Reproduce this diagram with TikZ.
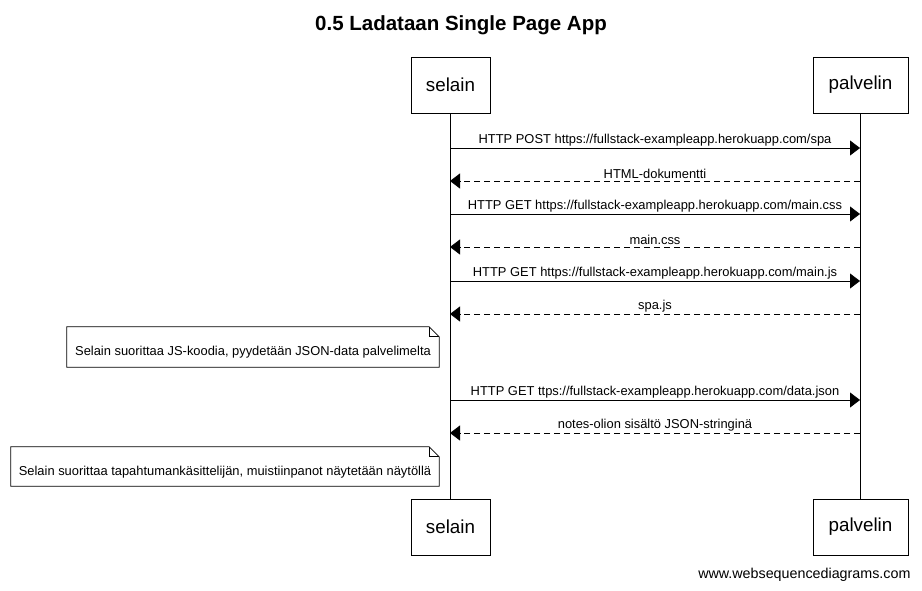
\documentclass[tikz,border=0pt]{standalone}
\usepackage{fontspec}
\setmainfont{Liberation Sans}
\usetikzlibrary{arrows.meta}
\tikzset{
  actorbox/.style={draw,line width=0.8pt,fill=white,minimum height=56,font=\fontsize{18.8}{21}\selectfont},
  lifeline/.style={line width=0.8pt},
  callmsg/.style={line width=0.8pt,-{Triangle[length=10pt,width=15pt]}},
  backmsg/.style={line width=0.8pt,dash pattern=on 6pt off 4pt,-{Triangle[length=10pt,width=15pt]}},
  msglabel/.style={above,inner sep=1.5pt,font=\fontsize{12.9}{14}\selectfont},
  notebox/.style={inner sep=0pt,text height=17pt,text depth=0pt,font=\fontsize{12.9}{14}\selectfont}
}
\newcommand{\notefold}[1]{%
  \draw[line width=0.8pt] (#1.north west) -- ([xshift=-10pt]#1.north east) -- ([yshift=-10pt]#1.north east)
    -- (#1.south east) -- (#1.south west) -- cycle;
  \draw[line width=0.8pt] ([xshift=-10pt]#1.north east) |- ([yshift=-10pt]#1.north east);
}
\begin{document}
\begin{tikzpicture}[x=1pt,y=-1pt]
\useasboundingbox (0,0) rectangle (922,590);
% title
\node[font=\bfseries\fontsize{20.5}{22}\selectfont] (title) at (461,25) {0.5 Ladataan Single Page App};
% participants, top and bottom
\node[actorbox,minimum width=79] (selTop) at (450.5,85) {selain};
\node[actorbox,minimum width=95] (palTop) at (860.5,85) {palvelin};
\node[actorbox,minimum width=79] (selBot) at (450.5,527) {selain};
\node[actorbox,minimum width=95] (palBot) at (860.5,527) {palvelin};
% lifelines
\draw[lifeline] (selTop) -- (selBot);
\draw[lifeline] (palTop) -- (palBot);
% message rows on the lifelines
\foreach \i/\y in {1/148,2/181,3/214,4/247,5/281,6/314,7/400,8/433} {
  \coordinate (s\i) at (450,\y);
  \coordinate (p\i) at (860,\y);
}
% page load
\draw[callmsg] (s1) -- node[msglabel] {HTTP POST https://fullstack-exampleapp.herokuapp.com/spa} (p1);
\draw[backmsg] (p2) -- node[msglabel] {HTML-dokumentti} (s2);
\draw[callmsg] (s3) -- node[msglabel] {HTTP GET https://fullstack-exampleapp.herokuapp.com/main.css} (p3);
\draw[backmsg] (p4) -- node[msglabel] {main.css} (s4);
\draw[callmsg] (s5) -- node[msglabel] {HTTP GET https://fullstack-exampleapp.herokuapp.com/main.js} (p5);
\draw[backmsg] (p6) -- node[msglabel] {spa.js} (s6);
% note: JS runs
\node[notebox,minimum width=372,minimum height=40] (jsNote) at (253,347) {Selain suorittaa JS-koodia, pyydetään JSON-data palvelimelta};
\notefold{jsNote}
% data
\draw[callmsg] (s7) -- node[msglabel] {HTTP GET ttps://fullstack-exampleapp.herokuapp.com/data.json} (p7);
\draw[backmsg] (p8) -- node[msglabel] {notes-olion sisältö JSON-stringinä} (s8);
% note: render
\node[notebox,minimum width=428,minimum height=39] (renderNote) at (225,466.5) {Selain suorittaa tapahtumankäsittelijän, muistiinpanot näytetään näytöllä};
\notefold{renderNote}
% footer
\node[anchor=east,font=\fontsize{14.3}{16}\selectfont] (footer) at (914,575) {www.websequencediagrams.com};
\end{tikzpicture}
\end{document}
